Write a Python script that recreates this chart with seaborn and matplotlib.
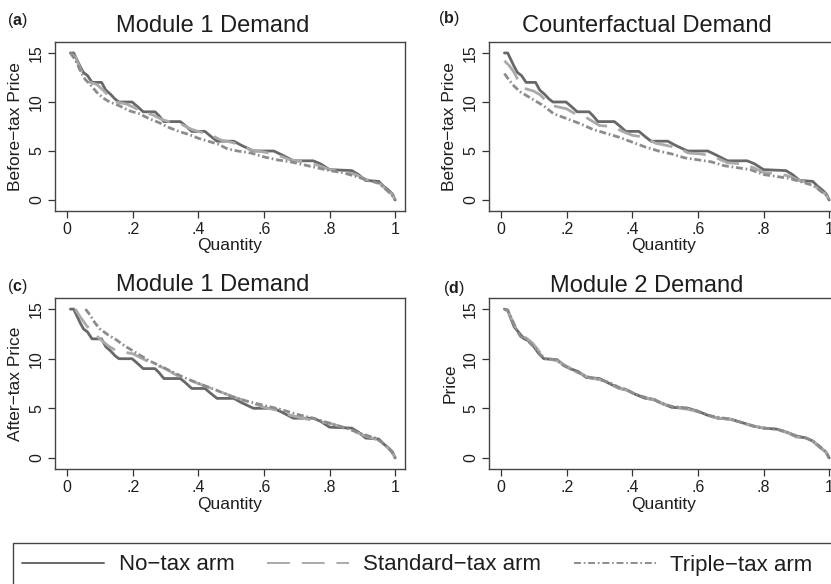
import numpy as np
import pandas as pd
import matplotlib
matplotlib.use("Agg")
import matplotlib.pyplot as plt
import seaborn as sns
from matplotlib.lines import Line2D
from matplotlib.patches import Rectangle

# arm names and styles
arms = ["No\u2212tax arm", "Standard\u2212tax arm", "Triple\u2212tax arm"]
arm_colors = ["#686868", "#aaaaaa", "#8c8c8c"]
arm_dashes = ["", (16.5, 8.5), (5, 2, 1.2, 2)]

# no-tax arm demand (panels a, b, c)
q_notax = [0.010, 0.020, 0.030, 0.040, 0.050, 0.062, 0.076, 0.105, 0.118, 0.132,
           0.146, 0.158, 0.198, 0.212, 0.232, 0.268, 0.280, 0.295, 0.345, 0.360,
           0.380, 0.420, 0.438, 0.457, 0.508, 0.530, 0.568, 0.630, 0.655, 0.690,
           0.750, 0.772, 0.800, 0.868, 0.888, 0.910, 0.950, 0.965, 0.980, 0.992, 1.000]
p_notax = [15.0, 15.0, 14.3, 13.6, 13.0, 12.7, 12.0, 12.0, 11.2, 10.8,
           10.3, 10.0, 10.0, 9.6, 9.0, 9.0, 8.6, 8.0, 8.0, 7.6,
           7.0, 7.0, 6.5, 6.0, 6.0, 5.6, 5.0, 5.0, 4.6, 4.0,
           4.0, 3.7, 3.1, 3.0, 2.6, 2.0, 1.9, 1.4, 1.0, 0.6, 0.0]

# panel (a) Module 1, before-tax price
q_a_std = [0.010, 0.025, 0.040, 0.055, 0.070, 0.090, 0.110, 0.130, 0.150, 0.180,
           0.200, 0.230, 0.260, 0.290, 0.320, 0.350, 0.380, 0.410, 0.440, 0.470,
           0.500, 0.530, 0.560, 0.600, 0.640, 0.680, 0.720, 0.760, 0.800, 0.840,
           0.880, 0.910, 0.950, 0.975, 0.990, 1.000]
p_a_std = [15.0, 14.6, 13.4, 12.4, 12.0, 11.8, 11.2, 10.5, 10.0, 9.8,
           9.5, 9.0, 8.7, 8.2, 7.9, 7.7, 7.2, 6.9, 6.6, 6.1,
           5.9, 5.6, 5.1, 4.9, 4.6, 4.1, 3.9, 3.6, 3.1, 2.9,
           2.6, 2.1, 1.8, 1.0, 0.6, 0.0]
q_a_tri = [0.010, 0.025, 0.040, 0.055, 0.070, 0.090, 0.110, 0.130, 0.160, 0.190,
           0.220, 0.250, 0.280, 0.310, 0.340, 0.370, 0.400, 0.430, 0.460, 0.490,
           0.520, 0.560, 0.600, 0.640, 0.680, 0.720, 0.760, 0.800, 0.840, 0.880,
           0.920, 0.950, 0.975, 0.990, 1.000]
p_a_tri = [15.0, 14.3, 13.2, 12.3, 11.8, 11.0, 10.4, 10.0, 9.6, 9.1,
           8.8, 8.3, 7.9, 7.4, 7.0, 6.7, 6.3, 6.0, 5.7, 5.2,
           5.0, 4.8, 4.4, 4.1, 3.9, 3.6, 3.3, 3.0, 2.8, 2.4,
           2.0, 1.7, 1.0, 0.5, 0.0]

# panel (b) counterfactual demand
q_b_std = [0.010, 0.025, 0.040, 0.055, 0.070, 0.100, 0.120, 0.140, 0.160, 0.200,
           0.220, 0.250, 0.280, 0.300, 0.340, 0.370, 0.400, 0.440, 0.470, 0.500,
           0.540, 0.570, 0.610, 0.650, 0.690, 0.730, 0.770, 0.800, 0.850, 0.880,
           0.910, 0.950, 0.975, 0.990, 1.000]
p_b_std = [14.2, 13.7, 13.0, 12.0, 11.4, 11.1, 10.7, 10.0, 9.6, 9.3,
           8.9, 8.6, 8.0, 7.6, 7.5, 7.0, 6.6, 6.4, 5.8, 5.6,
           5.3, 4.8, 4.7, 4.4, 3.8, 3.7, 3.3, 2.8, 2.7, 2.4,
           2.0, 1.6, 0.9, 0.6, 0.0]
q_b_tri = [0.010, 0.025, 0.040, 0.060, 0.080, 0.100, 0.130, 0.160, 0.200, 0.240,
           0.280, 0.320, 0.360, 0.400, 0.440, 0.480, 0.520, 0.560, 0.600, 0.640,
           0.680, 0.720, 0.760, 0.800, 0.840, 0.880, 0.910, 0.950, 0.975, 0.990, 1.000]
p_b_tri = [12.9, 12.2, 11.6, 11.0, 10.6, 10.2, 9.6, 8.8, 8.3, 7.8,
           7.2, 6.8, 6.4, 5.9, 5.4, 5.0, 4.7, 4.3, 4.1, 3.9,
           3.5, 3.3, 3.1, 2.6, 2.4, 2.2, 1.9, 1.5, 0.9, 0.5, 0.0]

# panel (c) Module 1, after-tax price
q_c_std = [0.025, 0.040, 0.060, 0.080, 0.100, 0.125, 0.150, 0.200, 0.230, 0.260,
           0.300, 0.340, 0.370, 0.400, 0.440, 0.480, 0.520, 0.560, 0.600, 0.640,
           0.680, 0.720, 0.760, 0.800, 0.840, 0.880, 0.910, 0.950, 0.975, 0.990, 1.000]
p_c_std = [15.0, 14.2, 13.3, 12.6, 12.0, 11.3, 10.8, 10.5, 10.0, 9.5,
           9.0, 8.2, 7.9, 7.5, 7.0, 6.5, 6.0, 5.6, 5.1, 4.8,
           4.3, 4.0, 3.7, 3.5, 3.1, 2.6, 2.2, 1.8, 1.1, 0.6, 0.0]
q_c_tri = [0.056, 0.070, 0.085, 0.100, 0.125, 0.150, 0.175, 0.200, 0.250, 0.300,
           0.350, 0.400, 0.450, 0.500, 0.550, 0.600, 0.650, 0.700, 0.750, 0.800,
           0.850, 0.900, 0.940, 0.970, 0.990, 1.000]
p_c_tri = [15.0, 14.4, 13.6, 13.0, 12.4, 11.9, 11.3, 10.8, 9.8, 9.0,
           8.2, 7.5, 6.9, 6.2, 5.7, 5.3, 4.9, 4.4, 4.0, 3.5,
           3.0, 2.4, 2.0, 1.3, 0.6, 0.0]

# panel (d) Module 2 demand
q_d_no = [0.010, 0.020, 0.030, 0.040, 0.055, 0.070, 0.085, 0.100, 0.115, 0.130,
          0.170, 0.190, 0.210, 0.235, 0.260, 0.300, 0.330, 0.360, 0.380, 0.410,
          0.440, 0.465, 0.490, 0.520, 0.570, 0.600, 0.630, 0.660, 0.700, 0.730,
          0.770, 0.800, 0.840, 0.870, 0.900, 0.930, 0.950, 0.970, 0.990, 1.000]
p_d_no = [15.0, 14.9, 14.0, 13.2, 12.6, 12.0, 11.8, 11.2, 10.5, 10.0,
          9.9, 9.4, 9.0, 8.7, 8.1, 8.0, 7.5, 7.0, 6.9, 6.4,
          6.0, 5.9, 5.5, 5.1, 5.0, 4.7, 4.3, 4.0, 3.9, 3.6,
          3.2, 3.0, 2.9, 2.6, 2.2, 2.0, 1.7, 1.1, 0.6, 0.0]
q_d_std = [0.010, 0.020, 0.035, 0.050, 0.065, 0.080, 0.095, 0.110, 0.125, 0.140,
           0.170, 0.195, 0.215, 0.240, 0.265, 0.300, 0.335, 0.360, 0.385, 0.415,
           0.445, 0.470, 0.495, 0.525, 0.570, 0.605, 0.635, 0.665, 0.700, 0.735,
           0.770, 0.805, 0.840, 0.875, 0.900, 0.930, 0.955, 0.975, 0.990, 1.000]
p_d_std = [15.0, 14.8, 13.8, 12.8, 12.3, 12.0, 11.6, 11.0, 10.3, 10.0,
           9.8, 9.3, 9.0, 8.6, 8.1, 7.9, 7.4, 7.0, 6.8, 6.3,
           6.0, 5.8, 5.4, 5.1, 4.9, 4.6, 4.2, 4.0, 3.9, 3.5,
           3.2, 3.0, 2.9, 2.5, 2.1, 2.0, 1.6, 1.0, 0.6, 0.0]
q_d_tri = [0.010, 0.020, 0.030, 0.045, 0.060, 0.075, 0.090, 0.105, 0.120, 0.135,
           0.170, 0.190, 0.210, 0.235, 0.260, 0.300, 0.330, 0.360, 0.380, 0.410,
           0.440, 0.465, 0.490, 0.520, 0.570, 0.600, 0.630, 0.660, 0.700, 0.730,
           0.770, 0.800, 0.840, 0.870, 0.900, 0.930, 0.950, 0.970, 0.990, 1.000]
p_d_tri = [15.0, 14.9, 14.2, 13.0, 12.2, 12.0, 11.5, 11.0, 10.4, 10.0,
           9.9, 9.3, 9.0, 8.6, 8.2, 7.9, 7.6, 7.1, 6.9, 6.4,
           6.1, 5.9, 5.5, 5.2, 5.0, 4.7, 4.3, 4.1, 3.9, 3.6,
           3.2, 3.0, 2.9, 2.6, 2.2, 2.0, 1.7, 1.2, 0.6, 0.0]

panels = [
    ("(a)", "Module 1 Demand", "Before\u2212tax Price",
     [(q_notax, p_notax), (q_a_std, p_a_std), (q_a_tri, p_a_tri)]),
    ("(b)", "Counterfactual Demand", "Before\u2212tax Price",
     [(q_notax, p_notax), (q_b_std, p_b_std), (q_b_tri, p_b_tri)]),
    ("(c)", "Module 1 Demand", "After\u2212tax Price",
     [(q_notax, p_notax), (q_c_std, p_c_std), (q_c_tri, p_c_tri)]),
    ("(d)", "Module 2 Demand", "Price",
     [(q_d_no, p_d_no), (q_d_std, p_d_std), (q_d_tri, p_d_tri)]),
]

sns.set_style("white")
plt.rcParams['font.family'] = ['Liberation Sans', 'DejaVu Sans']
plt.rcParams['lines.scale_dashes'] = False
plt.rcParams['lines.solid_joinstyle'] = 'round'
plt.rcParams['lines.dash_joinstyle'] = 'round'
plt.rcParams['mathtext.fontset'] = 'custom'
plt.rcParams['mathtext.bf'] = 'Liberation Sans:bold'
plt.rcParams['mathtext.rm'] = 'Liberation Sans'

W, H = 831, 584
fig = plt.figure(figsize=(W / 100, H / 100), dpi=100)

# axes boxes in pixels: left, top, right, bottom
boxes = [(55, 42, 405, 211), (489, 42, 839, 211),
         (55, 298, 405, 469), (489, 298, 839, 469)]
label_pos = [(7, 25), (438, 23), (7, 291), (443, 293)]
title_base = [32.5, 32.5, 290.5, 291.5]
txt = "#1e1e1e"

palette = dict(zip(arms, arm_colors))
dashes = dict(zip(arms, arm_dashes))

for (lab, title, ylab, series), box, lp, tb in zip(panels, boxes, label_pos, title_base):
    l, t, r, b = box
    ax = fig.add_axes([l / W, 1 - b / H, (r - l) / W, (b - t) / H])
    frames = []
    for arm, (q, p) in zip(arms, series):
        frames.append(pd.DataFrame({"Quantity": q, "Price": p, "arm": arm}))
    df = pd.concat(frames, ignore_index=True)
    sns.lineplot(data=df, x="Quantity", y="Price", hue="arm", style="arm",
                 palette=palette, dashes=dashes, hue_order=arms, style_order=arms,
                 estimator=None, linewidth=2.0, legend=False, ax=ax)
    ax.set_xlim(-0.037, 1.03)
    ax.set_ylim(-1.12, 16.12)
    ax.set_xticks([0, 0.2, 0.4, 0.6, 0.8, 1.0])
    ax.set_xticklabels(["0", ".2", ".4", ".6", ".8", "1"])
    ax.set_yticks([0, 5, 10, 15])
    ax.set_yticklabels(["0", "5", "10", "15"], rotation=90, va="center")
    ax.tick_params(axis="both", direction="out", length=5, width=0.9,
                   color="#333333", labelsize=11.5, labelcolor=txt, pad=3,
                   bottom=True, left=True)
    for s in ax.spines.values():
        s.set_color("#444444")
        s.set_linewidth(1.0)
    ax.set_xlabel("Quantity", fontsize=12.5, color=txt, labelpad=1)
    ax.set_ylabel(ylab, fontsize=12.5, color=txt, labelpad=4)
    fig.text((l + 0.45 * (r - l)) / W, 1 - tb / H, title, fontsize=17,
             color=txt, ha="center", va="baseline")
    fig.text(lp[0] / W, 1 - lp[1] / H, "(" + r"$\mathbf{" + lab[1] + "}$" + ")",
             fontsize=11.5, color=txt, ha="left", va="baseline")

# legend at the bottom
fig.patches.append(Rectangle((13 / W, -0.05), 840 / W, (584 - 543) / H + 0.05,
                             transform=fig.transFigure, fill=False,
                             edgecolor="#444444", linewidth=1.0))
handles = [Line2D([], [], color=c, linewidth=1.4,
                  linestyle="-" if d == "" else (0, d))
           for c, d in zip(arm_colors, arm_dashes)]
fig.legend(handles, arms, loc="center left", bbox_to_anchor=(22 / W, 19 / H),
           ncol=3, frameon=False, fontsize=16, handlelength=3.7,
           handletextpad=0.65, columnspacing=1.45, borderpad=0,
           borderaxespad=0, labelcolor=txt)

fig.savefig("out.png", dpi=100)
